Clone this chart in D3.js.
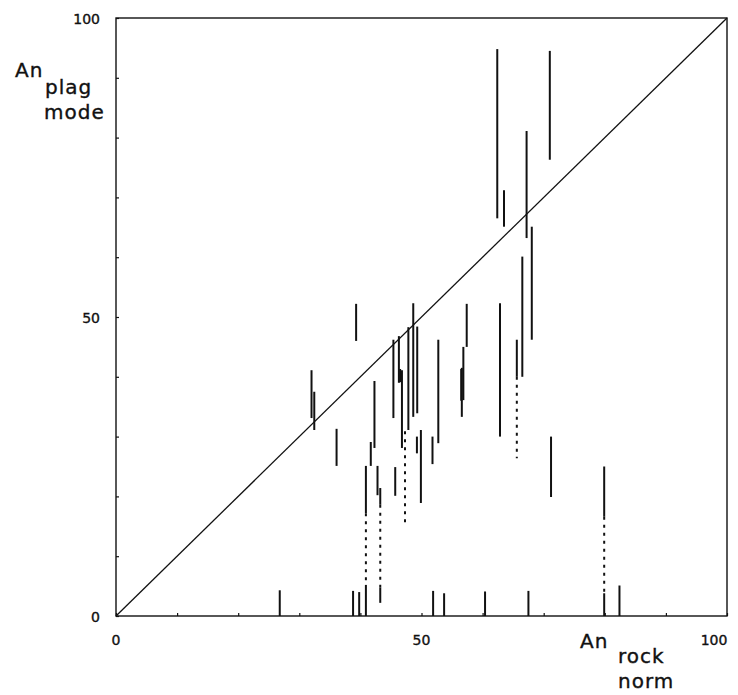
<!DOCTYPE html>
<html>
<head>
<meta charset="utf-8">
<script src="https://cdn.jsdelivr.net/npm/d3@7"></script>
<style>
  body { margin: 0; background: #fff; }
  svg text { font-family: "DejaVu Sans", sans-serif; fill: #111; stroke: #111; stroke-width: 0.35; }
</style>
</head>
<body>
<svg id="chart" width="738" height="695"></svg>
<script>
// An rock (norm) vs An plagioclase (mode): each sample is [An rock, low, high]
let solidBars = [
	[26.8, 0, 4.3], [32.0, 33.1, 41.1], [32.45, 31.1, 37.5], [36.1, 25.1, 31.3],
	[38.8, 0, 4.2], [39.3, 46.0, 52.2], [39.8, 0, 4.0],
	[40.9, 17.2, 25.1], [40.9, 0, 5.2],
	[41.7, 25.1, 29.1], [42.3, 28.1, 39.3], [42.8, 20.2, 25.1],
	[43.25, 18.6, 21.4], [43.25, 2.2, 4.8],
	[45.4, 33.1, 46.2], [45.7, 20.1, 24.9], [46.3, 39.0, 46.8], [46.5, 39.1, 41.3],
	[46.8, 28.1, 41.1], [47.85, 31.1, 48.3], [48.65, 33.3, 52.3], [49.3, 33.9, 48.4],
	[49.25, 27.2, 30.0], [49.9, 18.9, 31.1], [51.8, 25.4, 30.0], [51.9, 0, 4.2],
	[52.75, 28.9, 46.2], [53.7, 0, 3.8], [56.6, 33.3, 41.5], [56.5, 36.0, 41.3],
	[56.85, 36.1, 45.0], [57.4, 45.0, 52.2], [60.4, 0, 4.1], [62.4, 66.5, 94.8],
	[62.85, 30.0, 52.3], [63.5, 65.1, 71.2], [65.6, 40.0, 46.2], [66.5, 40.0, 60.1],
	[67.2, 63.2, 81.1], [67.5, 0, 4.2], [68.05, 46.2, 65.1], [71.0, 76.3, 94.5],
	[71.2, 19.9, 30.0], [79.9, 16.6, 25.0], [79.9, 0, 3.8], [82.4, 0, 5.1]
];

let dottedBars = [
	[40.9, 5.2, 17.2], [43.25, 4.8, 18.6], [47.3, 15.6, 30.9],
	[65.6, 26.4, 40.0], [79.9, 3.8, 16.6]
];

let tickValues = d3.range(0, 101, 10);
let tickLabels = [0, 50, 100];

let svg = d3.select('#chart');

let x = d3.scaleLinear().domain([0, 100]).range([116, 727]);
let y = d3.scaleLinear().domain([0, 100]).range([616, 18]);

// frame
svg.append('rect')
	.attr('x', x(0)).attr('y', y(100))
	.attr('width', x(100) - x(0)).attr('height', y(0) - y(100))
	.attr('fill', 'none').attr('stroke', '#111').attr('stroke-width', 1.4);

// inward ticks
svg.append('g')
	.attr('transform', 'translate(0,' + y(0) + ')')
	.call(d3.axisTop(x).tickValues(tickValues).tickSize(3).tickFormat(''))
	.call(g => g.select('.domain').remove())
	.selectAll('line').attr('stroke', '#111').attr('stroke-width', 1.2);

svg.append('g')
	.attr('transform', 'translate(' + x(0) + ',0)')
	.call(d3.axisRight(y).tickValues(tickValues).tickSize(3).tickFormat(''))
	.call(g => g.select('.domain').remove())
	.selectAll('line').attr('stroke', '#111').attr('stroke-width', 1.2);

// 1:1 line
svg.append('line')
	.attr('x1', x(0)).attr('y1', y(0))
	.attr('x2', x(100)).attr('y2', y(100))
	.attr('stroke', '#111').attr('stroke-width', 1.3);

svg.append('g').selectAll('line')
	.data(solidBars)
	.enter().append('line')
		.attr('x1', d => x(d[0])).attr('x2', d => x(d[0]))
		.attr('y1', d => y(d[1])).attr('y2', d => y(d[2]))
		.attr('stroke', '#111').attr('stroke-width', 2);

svg.append('g').selectAll('line')
	.data(dottedBars)
	.enter().append('line')
		.attr('x1', d => x(d[0])).attr('x2', d => x(d[0]))
		.attr('y1', d => y(d[2])).attr('y2', d => y(d[1]))
		.attr('stroke', '#111').attr('stroke-width', 2)
		.attr('stroke-dasharray', '3,5');

// tick labels
svg.append('g').selectAll('text')
	.data(tickLabels)
	.enter().append('text')
		.attr('x', d => d === 100 ? x(d) - 13 : x(d))
		.attr('y', 645)
		.attr('text-anchor', 'middle')
		.attr('font-size', 14)
		.text(d => d);

svg.append('g').selectAll('text')
	.data(tickLabels)
	.enter().append('text')
		.attr('x', 100)
		.attr('y', d => y(d) + 6)
		.attr('text-anchor', 'end')
		.attr('font-size', 14)
		.text(d => d);

// axis titles
let titleY = svg.append('text').attr('font-size', 20).attr('letter-spacing', 1);
titleY.append('tspan').attr('x', 15).attr('y', 77).text('An');
titleY.append('tspan').attr('x', 45).attr('y', 94).text('plag');
titleY.append('tspan').attr('x', 44).attr('y', 119).text('mode');

let titleX = svg.append('text').attr('font-size', 20).attr('letter-spacing', 1);
titleX.append('tspan').attr('x', 580).attr('y', 648).text('An');
titleX.append('tspan').attr('x', 618).attr('y', 663).text('rock');
titleX.append('tspan').attr('x', 618).attr('y', 688).text('norm');
</script>
</body>
</html>
